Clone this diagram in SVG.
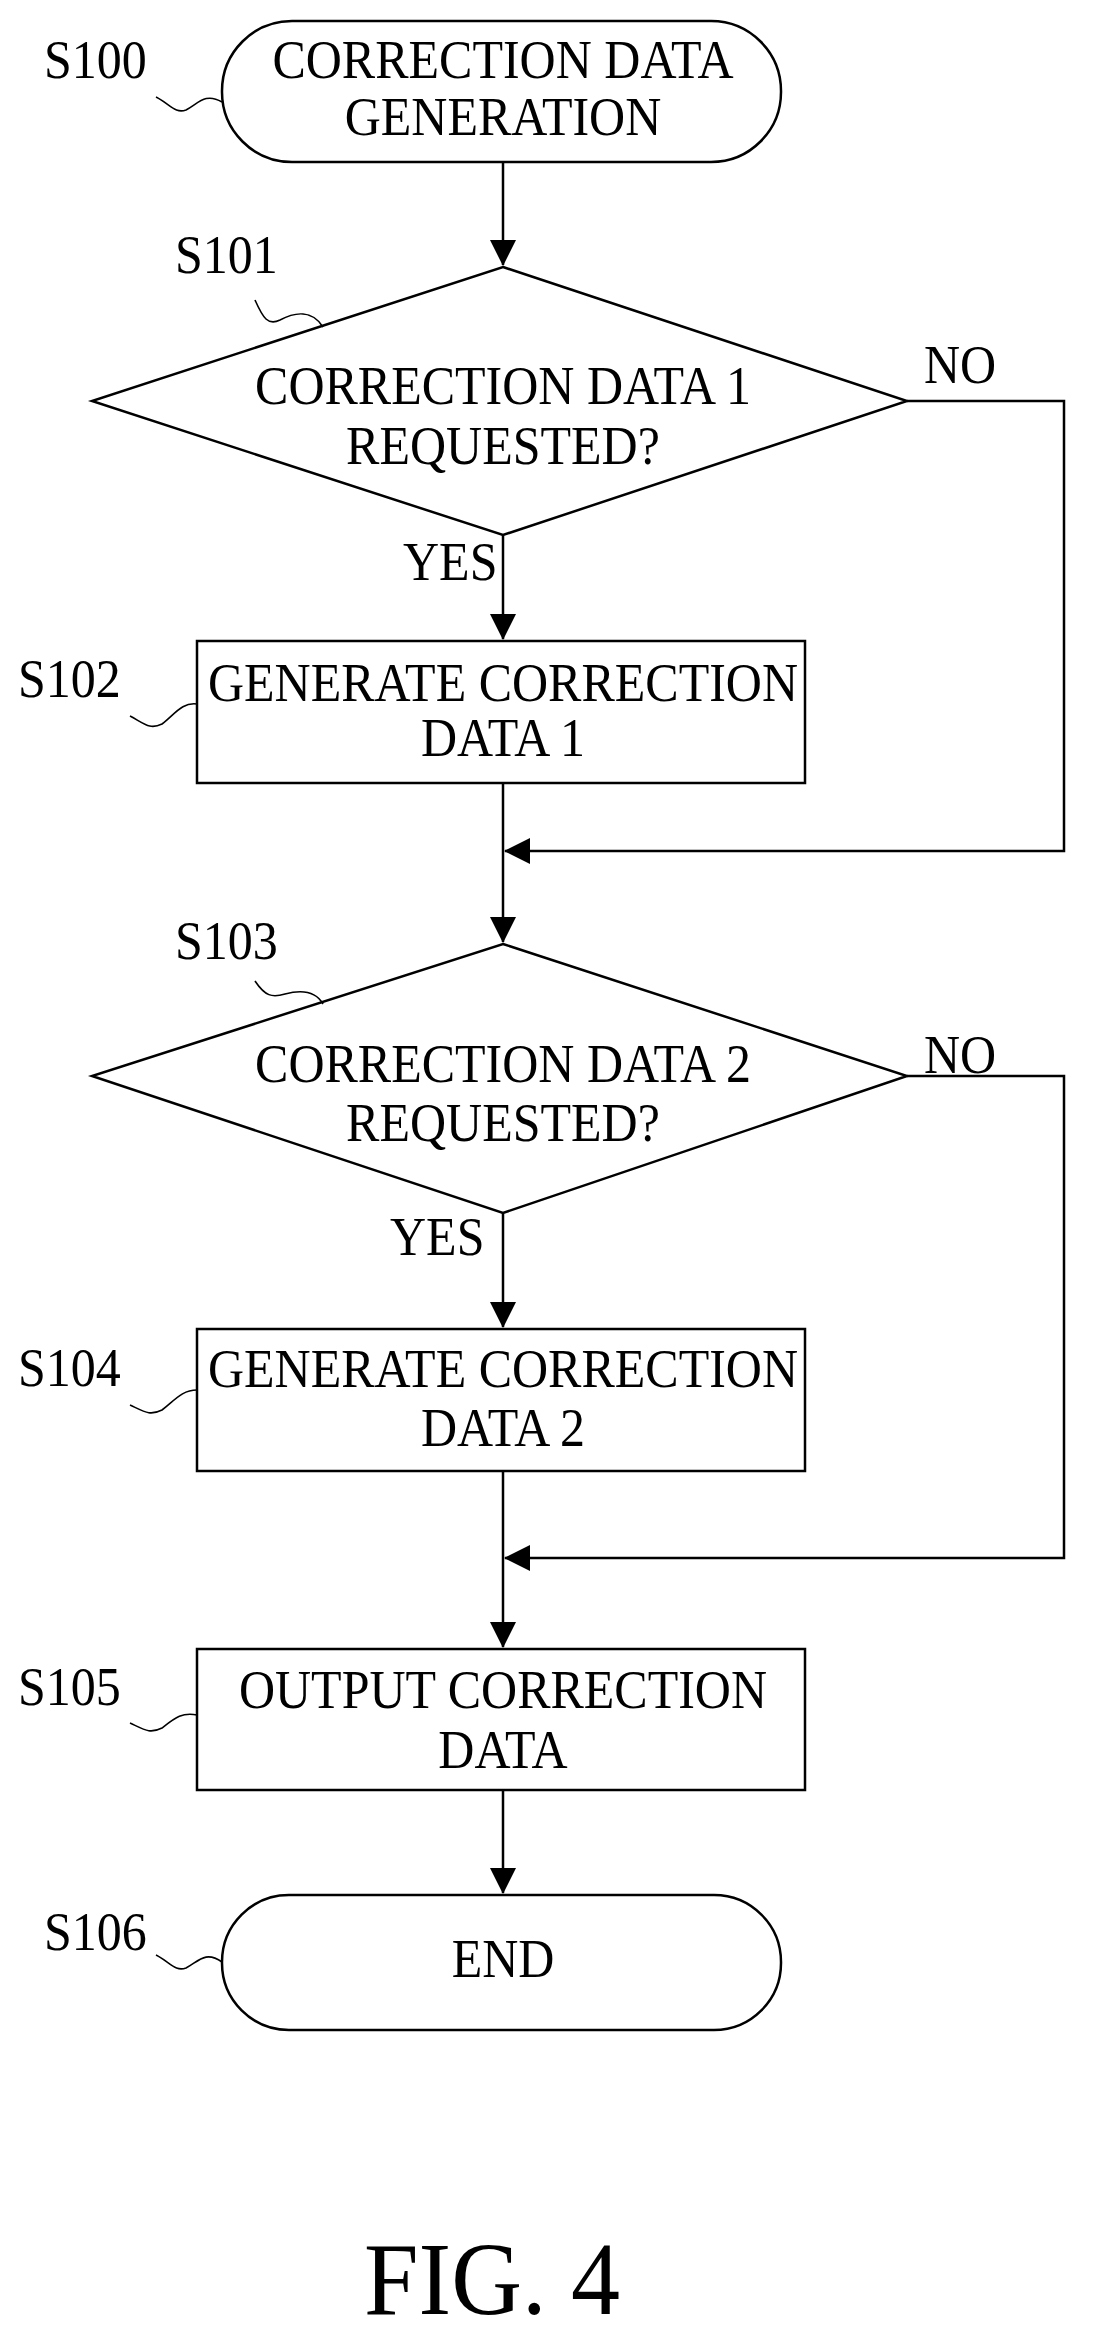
<svg xmlns="http://www.w3.org/2000/svg" width="1097" height="2342" viewBox="0 0 1097 2342">
<style>
.s{fill:none;stroke:#000;stroke-width:2.5}
.w{fill:none;stroke:#000;stroke-width:1.6}
.t{font-family:"Liberation Serif",serif;font-size:50px;fill:#000}
.m{text-anchor:middle}
</style>
<defs>
<marker id="b" markerWidth="26" markerHeight="26" refX="25" refY="13" orient="auto" markerUnits="userSpaceOnUse" viewBox="0 0 26 26"><path d="M0,0 L26,13 L0,26 z" fill="#000"/></marker></defs>
<rect width="1097" height="2342" fill="#fff"/>
<g id="connectors">
<path class="s" d="M503,162 V265" marker-end="url(#b)"/>
<path class="s" d="M503,535 V639" marker-end="url(#b)"/>
<path class="s" d="M907,401 H1064 V851 H505" marker-end="url(#b)"/>
<path class="s" d="M503,783 V942" marker-end="url(#b)"/>
<path class="s" d="M503,1213 V1327" marker-end="url(#b)"/>
<path class="s" d="M907,1076 H1064 V1558 H505" marker-end="url(#b)"/>
<path class="s" d="M503,1471 V1647" marker-end="url(#b)"/>
<path class="s" d="M503,1790 V1893" marker-end="url(#b)"/>
<text class="t" transform="translate(924,383) scale(1,1.1)">NO</text>
<text class="t" transform="translate(403,580) scale(1,1.1)">YES</text>
<text class="t" transform="translate(924,1073) scale(1,1.1)">NO</text>
<text class="t" transform="translate(390,1255) scale(1,1.1)">YES</text>
</g>
<g id="S100">
<rect class="s" x="222" y="21" width="559" height="141" rx="70"/>
<text class="t m" transform="translate(503,78) scale(1,1.1)">CORRECTION DATA</text>
<text class="t m" transform="translate(503,135) scale(1,1.1)">GENERATION</text>
<text class="t" transform="translate(44,78) scale(1,1.1)">S100</text>
<path class="w" d="M156,97 C170,104 175,114 186,110 C198,104 205,92 222,102"/>
</g>
<g id="S101">
<path class="s" d="M503,267 L907,401 L503,535 L92,401 Z"/>
<text class="t m" transform="translate(503,404) scale(1,1.1)">CORRECTION DATA 1</text>
<text class="t m" transform="translate(503,464) scale(1,1.1)">REQUESTED?</text>
<text class="t" transform="translate(175,273) scale(1,1.1)">S101</text>
<path class="w" d="M255,300 C263,318 268,326 280,320 C295,312 312,310 323,327"/>
</g>
<g id="S102">
<rect class="s" x="197" y="641" width="608" height="142"/>
<text class="t m" transform="translate(503,701) scale(1,1.1)">GENERATE CORRECTION</text>
<text class="t m" transform="translate(503,756) scale(1,1.1)">DATA 1</text>
<text class="t" transform="translate(18,697) scale(1,1.1)">S102</text>
<path class="w" d="M130,716 C145,724 150,730 162,724 C175,714 182,702 197,704"/>
</g>
<g id="S103">
<path class="s" d="M503,944 L907,1076 L503,1213 L92,1076 Z"/>
<text class="t m" transform="translate(503,1082) scale(1,1.1)">CORRECTION DATA 2</text>
<text class="t m" transform="translate(503,1141) scale(1,1.1)">REQUESTED?</text>
<text class="t" transform="translate(175,959) scale(1,1.1)">S103</text>
<path class="w" d="M255,981 C265,996 272,998 285,994 C300,990 315,990 323,1004"/>
</g>
<g id="S104">
<rect class="s" x="197" y="1329" width="608" height="142"/>
<text class="t m" transform="translate(503,1387) scale(1,1.1)">GENERATE CORRECTION</text>
<text class="t m" transform="translate(503,1446) scale(1,1.1)">DATA 2</text>
<text class="t" transform="translate(18,1386) scale(1,1.1)">S104</text>
<path class="w" d="M130,1405 C145,1412 150,1416 162,1410 C175,1400 182,1390 197,1390"/>
</g>
<g id="S105">
<rect class="s" x="197" y="1649" width="608" height="141"/>
<text class="t m" transform="translate(503,1708) scale(1,1.1)">OUTPUT CORRECTION</text>
<text class="t m" transform="translate(503,1768) scale(1,1.1)">DATA</text>
<text class="t" transform="translate(18,1705) scale(1,1.1)">S105</text>
<path class="w" d="M130,1723 C145,1730 150,1734 162,1728 C175,1718 182,1712 197,1715"/>
</g>
<g id="S106">
<rect class="s" x="222" y="1895" width="559" height="135" rx="67"/>
<text class="t m" transform="translate(503,1977) scale(1,1.1)">END</text>
<text class="t" transform="translate(44,1950) scale(1,1.1)">S106</text>
<path class="w" d="M156,1955 C170,1962 175,1972 186,1968 C198,1962 205,1950 222,1962"/>
</g>
<text class="t m" transform="translate(492,2314) scale(1,1.05)" style="font-size:98px">FIG. 4</text>
</svg>
